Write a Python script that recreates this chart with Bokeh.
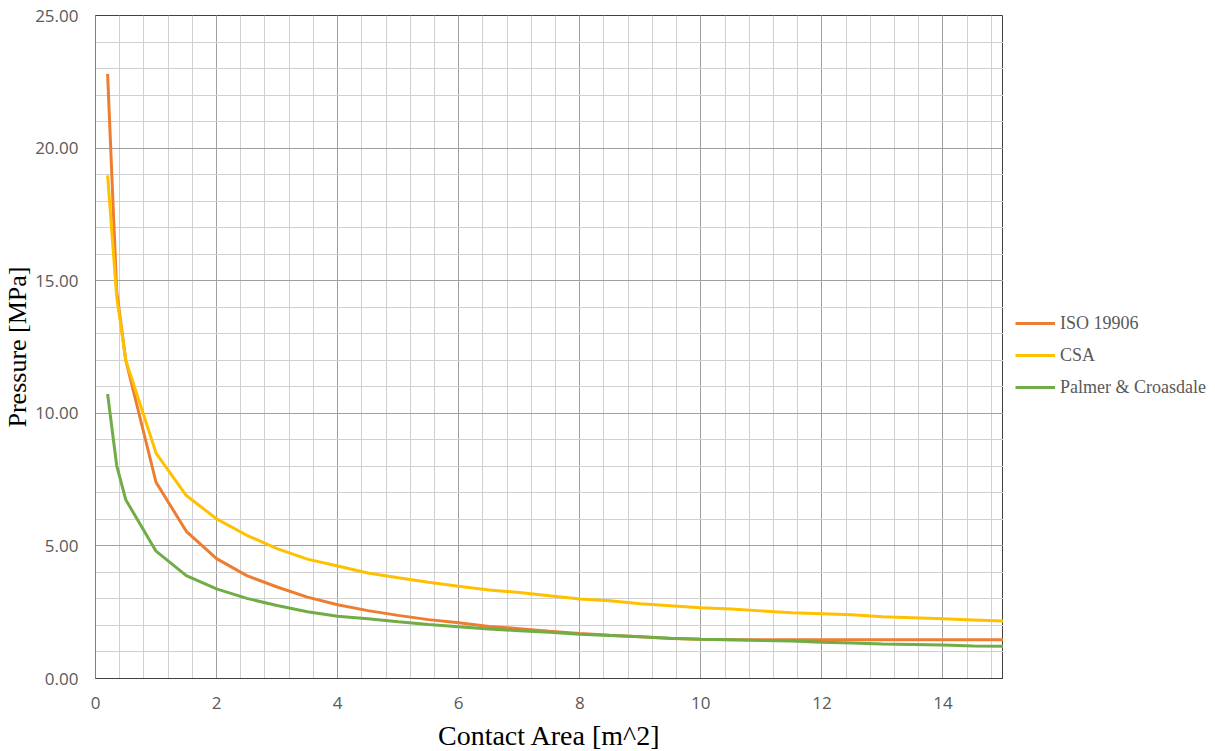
from bokeh.plotting import figure
from bokeh.layouts import row
from bokeh.models import Range1d, SingleIntervalTicker, NumeralTickFormatter, Legend, LegendItem
from bokeh.embed import file_html
from bokeh.resources import INLINE

area = [0.2, 0.35, 0.5, 1.0, 1.5, 2.0, 2.5, 3.0, 3.5, 4.0, 4.5, 5.0, 5.5, 6.0, 6.5, 7.0, 7.5,
        8.0, 8.5, 9.0, 9.5, 10.0, 10.5, 11.0, 11.5, 12.0, 12.5, 13.0, 13.5, 14.0, 14.5, 15.0]
iso = [22.8, 14.6, 12.0, 7.4, 5.55, 4.52, 3.88, 3.45, 3.07, 2.78, 2.56, 2.38, 2.22, 2.10, 1.96, 1.88, 1.78,
       1.70, 1.63, 1.57, 1.51, 1.48, 1.46, 1.46, 1.46, 1.46, 1.46, 1.46, 1.46, 1.46, 1.46, 1.46]
csa = [18.97, 14.4, 12.0, 8.5, 6.9, 6.02, 5.4, 4.9, 4.5, 4.24, 3.98, 3.80, 3.63, 3.48, 3.34, 3.24, 3.12,
       3.00, 2.93, 2.82, 2.74, 2.67, 2.62, 2.55, 2.48, 2.44, 2.40, 2.33, 2.29, 2.25, 2.21, 2.17]
palmer = [10.73, 8.03, 6.74, 4.80, 3.88, 3.38, 3.02, 2.75, 2.52, 2.35, 2.25, 2.14, 2.04, 1.95, 1.87, 1.80, 1.74,
          1.67, 1.62, 1.57, 1.52, 1.48, 1.46, 1.43, 1.41, 1.37, 1.34, 1.30, 1.28, 1.26, 1.23, 1.22]

series = [("ISO 19906", iso, "#ED7D31"), ("CSA", csa, "#FFC000"), ("Palmer & Croasdale", palmer, "#70AD47")]

p = figure(frame_width=908, frame_height=663, output_backend="svg", toolbar_location=None,
           x_range=Range1d(0, 15), y_range=Range1d(0, 25),
           min_border_left=88, min_border_right=0, min_border_top=15, min_border_bottom=67)

for name, ys, col in series:
    p.line(area, ys, line_color=col, line_width=3)

p.xaxis.ticker = SingleIntervalTicker(interval=2, num_minor_ticks=5)
p.yaxis.ticker = SingleIntervalTicker(interval=5, num_minor_ticks=5)
p.yaxis.formatter = NumeralTickFormatter(format="0.00")

for ax in (p.xaxis, p.yaxis):
    ax.major_tick_line_color = None
    ax.minor_tick_line_color = None
    ax.major_label_text_color = "#595959"
    ax.major_label_text_font = "Open Sans"
    ax.major_label_text_font_size = "17px"
    ax.axis_label_text_font = "Liberation Serif"
    ax.axis_label_text_font_style = "normal"
    ax.axis_label_text_color = "#000000"

p.xaxis.axis_line_color = "#404040"
p.yaxis.axis_line_color = "#808080"
p.xaxis.axis_label = "Contact Area [m^2]"
p.yaxis.axis_label = "Pressure [MPa]"
p.xaxis.axis_label_text_font_size = "28px"
p.yaxis.axis_label_text_font_size = "26px"
p.xaxis.major_label_standoff = 12
p.yaxis.major_label_standoff = 11
p.xaxis.axis_label_standoff = 8
p.yaxis.axis_label_standoff = 0

for g in (p.xgrid, p.ygrid):
    g.grid_line_color = "#a0a0a0"
    g.grid_line_width = 1
    g.minor_grid_line_color = "#d0d0d0"
    g.minor_grid_line_width = 1

p.outline_line_color = "#404040"
p.outline_line_width = 1
p.background_fill_color = "white"
p.border_fill_color = "white"

# legend panel to the right of the plot (series drawn off-range, only the legend shows)
lg = figure(width=208, height=745, output_backend="svg", toolbar_location=None,
            x_range=Range1d(-20, -19), y_range=Range1d(-20, -19),
            x_axis_type=None, y_axis_type=None,
            min_border_left=0, min_border_right=0, min_border_top=0, min_border_bottom=0)
lg.outline_line_color = None
items = []
for name, ys, col in series:
    r = lg.line(area, ys, line_color=col, line_width=3)
    items.append(LegendItem(label=name, renderers=[r]))

legend = Legend(items=items, location=(8, 268), margin=0, padding=4, spacing=10,
                glyph_width=40, glyph_height=22, label_height=22, label_standoff=5,
                label_text_font="Liberation Serif", label_text_font_size="18px",
                label_text_color="#595959", border_line_alpha=0, background_fill_alpha=0)
lg.add_layout(legend)

layout = row(p, lg)
open("out.html", "w").write(file_html(layout, INLINE))
